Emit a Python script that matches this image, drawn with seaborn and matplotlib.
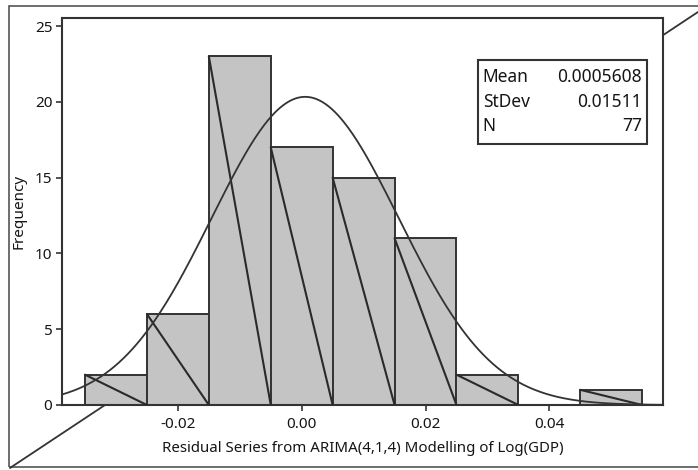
import numpy as np
import pandas as pd
import matplotlib
matplotlib.use("Agg")
import matplotlib.pyplot as plt
import seaborn as sns
from matplotlib.patches import Rectangle
from matplotlib.lines import Line2D

# ---- data ----
bin_centers = [-0.03, -0.02, -0.01, 0.00, 0.01, 0.02, 0.03, 0.04, 0.05]
counts = [2, 6, 23, 17, 15, 11, 2, 0, 1]
bin_edges = [-0.035, -0.025, -0.015, -0.005, 0.005, 0.015, 0.025, 0.035, 0.045, 0.055]
stat_labels = ["Mean", "StDev", "N"]
stat_values = ["0.0005608", "0.01511", "77"]
mean_val = 0.0005608
sd_val = 0.01511
n_val = 77
x_ticks = [-0.02, 0.00, 0.02, 0.04]
x_tick_labels = ["-0.02", "0.00", "0.02", "0.04"]
y_ticks = [0, 5, 10, 15, 20, 25]

sns.set_style("white")
plt.rcParams['font.family'] = ['Noto Sans', 'DejaVu Sans']

TXT = "#151515"
EDGE = "#333333"

fig = plt.figure(figsize=(6.98, 4.70), dpi=100)
fig.patch.set_facecolor("white")

# outer frame and scan diagonal (behind axes)
fig.add_artist(Rectangle((0.013, 0.006), 0.995, 0.981, transform=fig.transFigure,
                         fill=False, edgecolor="#555555", linewidth=1.2, zorder=0))
fig.add_artist(Line2D([0.0143, 1.0], [0.0043, 0.9745], transform=fig.transFigure,
                      color="#333333", linewidth=1.3, zorder=0))

ax = fig.add_axes([0.0888, 0.1383, 0.9499 - 0.0888, 0.9617 - 0.1383])
ax.set_facecolor("white")
ax.set_zorder(1)

df = pd.DataFrame({"resid": bin_centers, "count": counts})
sns.histplot(data=df, x="resid", weights="count", bins=bin_edges, ax=ax,
             color="#c4c4c4", alpha=1.0, edgecolor=EDGE, linewidth=1.4)

# diagonal line in each bar (top-left to bottom-right)
for p in ax.patches:
    h = p.get_height()
    if h > 0:
        x0 = p.get_x()
        w = p.get_width()
        ax.plot([x0, x0 + w], [h, 0], color="#2a2a2a", linewidth=1.5, zorder=3)

xlim = (-0.03872, 0.05836)
ax.set_xlim(*xlim)
ax.set_ylim(0, 25.53)

# fitted normal curve
xs = np.linspace(xlim[0], xlim[1], 400)
binw = bin_edges[1] - bin_edges[0]
ys = n_val * binw * np.exp(-0.5 * ((xs - mean_val) / sd_val) ** 2) / (sd_val * np.sqrt(2 * np.pi))
sns.lineplot(x=xs, y=ys, ax=ax, color="#333333", linewidth=1.3, zorder=4)

ax.set_xticks(x_ticks)
ax.set_xticklabels(x_tick_labels)
ax.set_yticks(y_ticks)
ax.tick_params(axis="both", direction="out", length=4, width=1.2, color=EDGE,
               labelsize=11, labelcolor=TXT, pad=3)
ax.tick_params(axis="x", bottom=True, top=False, pad=5)
ax.tick_params(axis="y", left=True, right=False)
for s in ax.spines.values():
    s.set_color(EDGE)
    s.set_linewidth(1.5)

ax.set_xlabel("Residual Series from ARIMA(4,1,4) Modelling of Log(GDP)", fontsize=10.8,
              color=TXT, labelpad=6)
ax.set_ylabel("Frequency", fontsize=11, color=TXT, labelpad=6)

# stats box
ax.add_patch(Rectangle((0.692, 0.674), 0.281, 0.217, transform=ax.transAxes,
                       facecolor="white", edgecolor=EDGE, linewidth=1.5, zorder=5))
rows_y = [0.848, 0.783, 0.721]
for lab, val, yy in zip(stat_labels, stat_values, rows_y):
    ax.text(0.700, yy, lab, transform=ax.transAxes, fontsize=12.5, color=TXT,
            ha="left", va="center", zorder=6)
    ax.text(0.965, yy, val, transform=ax.transAxes, fontsize=12.5, color=TXT,
            ha="right", va="center", zorder=6)

fig.savefig("out.png", dpi=100)
